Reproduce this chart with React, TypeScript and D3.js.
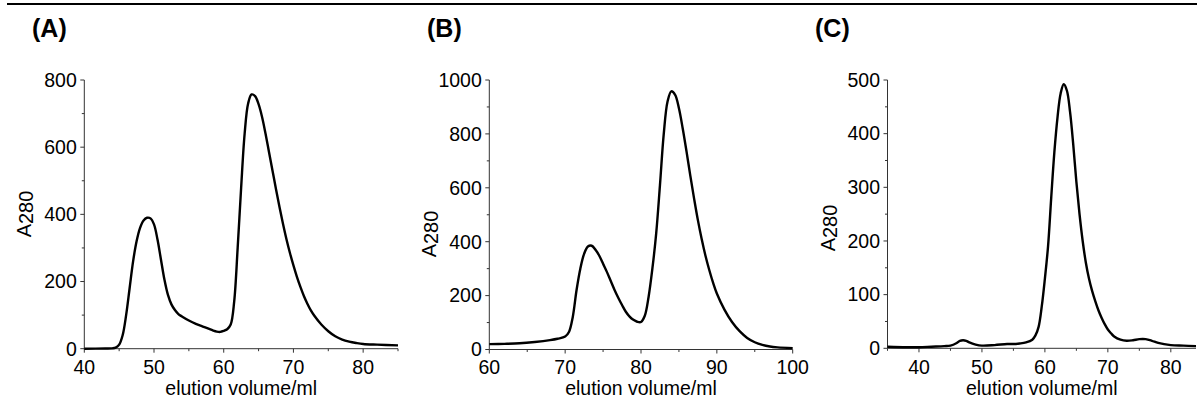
import React, { useEffect, useRef } from "react";
import * as d3 from "d3";

// ---- Data ----
const aVolume = [40, 43, 44, 44.5, 45, 45.5, 46, 46.5, 47, 47.5, 48, 48.5, 49, 49.5, 50, 50.5, 51, 51.5, 52, 52.5, 53, 53.5, 54, 55, 56, 57, 58, 58.5, 59, 59.5, 60, 60.5, 61, 61.5, 62, 62.5, 63, 63.5, 64, 64.5, 65, 65.5, 66, 66.5, 67, 67.5, 68, 68.5, 69, 69.5, 70, 70.5, 71, 71.5, 72, 72.5, 73, 74, 75, 76, 77, 78, 79, 80, 82, 85];
const aA280 = [0, 0.5, 1, 3, 12, 40, 100, 180, 260, 320, 360, 382, 390, 388, 370, 325, 265, 205, 160, 132, 115, 103, 96, 84, 74, 66, 58, 54, 51, 50, 53, 58, 72, 140, 300, 480, 640, 730, 757, 752, 728, 690, 640, 585, 530, 475, 422, 372, 326, 285, 248, 214, 184, 157, 134, 114, 98, 72, 52, 37, 27, 21, 17, 14, 12, 10];

const bVolume = [60, 62, 64, 66, 68, 69, 70, 70.5, 71, 71.5, 72, 72.5, 73, 73.5, 74, 74.5, 75, 75.5, 76, 76.5, 77, 77.5, 78, 78.5, 79, 79.5, 80, 80.5, 81, 81.5, 82, 82.5, 83, 83.5, 84, 84.5, 85, 85.5, 86, 86.5, 87, 87.5, 88, 88.5, 89, 89.5, 90, 91, 92, 93, 94, 95, 96, 97, 98, 100];
const bA280 = [20, 21, 23, 28, 35, 40, 48, 65, 120, 220, 300, 355, 382, 385, 370, 348, 318, 288, 255, 222, 192, 165, 140, 122, 110, 103, 102, 125, 195, 300, 430, 610, 800, 920, 958, 945, 895, 820, 735, 645, 560, 480, 410, 348, 295, 248, 208, 148, 102, 68, 43, 27, 17, 11, 8, 5];

const cVolume = [35, 38, 40, 42, 44, 45, 46, 46.5, 47, 47.5, 48, 49, 50, 52, 54, 55, 56, 57, 58, 58.5, 59, 59.5, 60, 60.5, 61, 61.5, 62, 62.5, 63, 63.5, 64, 64.5, 65, 65.5, 66, 66.5, 67, 67.5, 68, 68.5, 69, 69.5, 70, 70.5, 71, 72, 73, 74, 75, 76, 77, 78, 80, 82, 84];
const cA280 = [3, 2, 2, 3, 4, 5, 10, 14, 15, 14, 11, 7, 5, 6, 8, 8, 9, 11, 16, 24, 40, 78, 130, 190, 280, 365, 430, 475, 492, 480, 440, 380, 310, 250, 200, 160, 130, 107, 88, 71, 57, 45, 35, 28, 22, 16, 14, 15, 17, 17, 14, 10, 6, 5, 4];

const aXTicks = [40, 50, 60, 70, 80];
const aYTicks = [0, 200, 400, 600, 800];
const bXTicks = [60, 70, 80, 90, 100];
const bYTicks = [0, 200, 400, 600, 800, 1000];
const cXTicks = [40, 50, 60, 70, 80];
const cYTicks = [0, 100, 200, 300, 400, 500];

const panelTitles = ["(A)", "(B)", "(C)"];
const xTitle = "elution volume/ml";

// ---- Layout ----
const W = 1197;
const H = 403;
const FONT = "'Liberation Sans', Arial, sans-serif";

const panels = [
  {
    title: panelTitles[0], xs: aVolume, ys: aA280, xTicks: aXTicks, yTicks: aYTicks,
    xDomain: [40, 85], yDomain: [0, 800], x0: 84.3, x1: 398, y0: 348.7, y1: 80,
    titleX: 32, labelY: 214, xMinorStep: 5, yMinorStep: 100,
  },
  {
    title: panelTitles[1], xs: bVolume, ys: bA280, xTicks: bXTicks, yTicks: bYTicks,
    xDomain: [60, 100], yDomain: [0, 1000], x0: 489.3, x1: 792.7, y0: 349.5, y1: 80,
    titleX: 427, labelY: 234, xMinorStep: 5, yMinorStep: 100,
  },
  {
    title: panelTitles[2], xs: cVolume, ys: cA280, xTicks: cXTicks, yTicks: cYTicks,
    xDomain: [35, 84], yDomain: [0, 500], x0: 887.5, x1: 1196, y0: 348.3, y1: 80,
    titleX: 815, labelY: 228, xMinorStep: 5, yMinorStep: 50,
  },
];

export default function App() {
  const ref = useRef<SVGSVGElement>(null);

  useEffect(() => {
    const svg = d3.select(ref.current);
    svg.selectAll("*").remove();

    // top rule
    svg.append("rect").attr("x", 7).attr("y", 3).attr("width", W - 7).attr("height", 2).attr("fill", "#000");

    panels.forEach((p) => {
      const g = svg.append("g");
      const x = d3.scaleLinear().domain(p.xDomain).range([p.x0, p.x1]);
      const y = d3.scaleLinear().domain(p.yDomain).range([p.y0, p.y1]);
      const axisColor = "#333";

      // title
      g.append("text").attr("x", p.titleX).attr("y", 37).attr("font-family", FONT)
        .attr("font-size", 25).attr("font-weight", "bold").attr("fill", "#000").text(p.title);

      // axis lines
      g.append("line").attr("x1", p.x0).attr("x2", p.x0).attr("y1", p.y0).attr("y2", p.y1)
        .attr("stroke", axisColor).attr("stroke-width", 1);
      g.append("line").attr("x1", p.x0).attr("x2", p.x1).attr("y1", p.y0).attr("y2", p.y0)
        .attr("stroke", axisColor).attr("stroke-width", 1);

      // y minor ticks
      const yMinor = d3.range(p.yDomain[0], p.yDomain[1] + 0.001, p.yMinorStep)
        .filter((v) => !p.yTicks.includes(v));
      yMinor.forEach((v) => {
        g.append("line").attr("x1", p.x0 - 2.5).attr("x2", p.x0).attr("y1", y(v)).attr("y2", y(v))
          .attr("stroke", axisColor).attr("stroke-width", 1);
      });
      // y major ticks + labels
      p.yTicks.forEach((v) => {
        g.append("line").attr("x1", p.x0 - 4).attr("x2", p.x0).attr("y1", y(v)).attr("y2", y(v))
          .attr("stroke", axisColor).attr("stroke-width", 1);
        g.append("text").attr("x", p.x0 - 7.5).attr("y", y(v)).attr("dy", "0.35em")
          .attr("text-anchor", "end").attr("font-family", FONT).attr("font-size", 19.5)
          .attr("fill", "#000").text(String(v));
      });

      // x minor ticks
      const xStart = Math.ceil(p.xDomain[0] / p.xMinorStep) * p.xMinorStep;
      const xMinor = d3.range(xStart, p.xDomain[1] + 0.001, p.xMinorStep)
        .filter((v) => !p.xTicks.includes(v));
      xMinor.forEach((v) => {
        g.append("line").attr("x1", x(v)).attr("x2", x(v)).attr("y1", p.y0).attr("y2", p.y0 + 2.5)
          .attr("stroke", axisColor).attr("stroke-width", 1);
      });
      p.xTicks.forEach((v) => {
        g.append("line").attr("x1", x(v)).attr("x2", x(v)).attr("y1", p.y0).attr("y2", p.y0 + 4)
          .attr("stroke", axisColor).attr("stroke-width", 1);
        g.append("text").attr("x", x(v)).attr("y", 373.5).attr("text-anchor", "middle")
          .attr("font-family", FONT).attr("font-size", 19.5).attr("fill", "#000").text(String(v));
      });

      // x title
      g.append("text").attr("x", (p.x0 + Math.min(p.x1, W)) / 2).attr("y", 395)
        .attr("text-anchor", "middle").attr("font-family", FONT).attr("font-size", 19.5)
        .attr("fill", "#000").text(xTitle);

      // y title A280
      const lx = p.x0 - 53;
      const yt = g.append("text").attr("transform", `translate(${lx},${p.labelY}) rotate(-90)`)
        .attr("text-anchor", "middle").attr("font-family", FONT).attr("font-size", 20).attr("fill", "#000");
      yt.append("tspan").text("A");
      yt.append("tspan").attr("dy", 2).text("280");

      // curve
      const pts = p.xs.map((v, i) => [v, p.ys[i]] as [number, number]);
      const line = d3.line<[number, number]>().x((d) => x(d[0])).y((d) => y(d[1]))
        .curve(d3.curveCatmullRom.alpha(0.5));
      g.append("path").attr("d", line(pts) || "").attr("fill", "none").attr("stroke", "#000")
        .attr("stroke-width", 2.4).attr("stroke-linejoin", "round");
    });
  }, []);

  return (
    <svg ref={ref} width={W} height={H}
      style={{ position: "absolute", left: 0, top: 0, background: "#fff", display: "block" }} />
  );
}
